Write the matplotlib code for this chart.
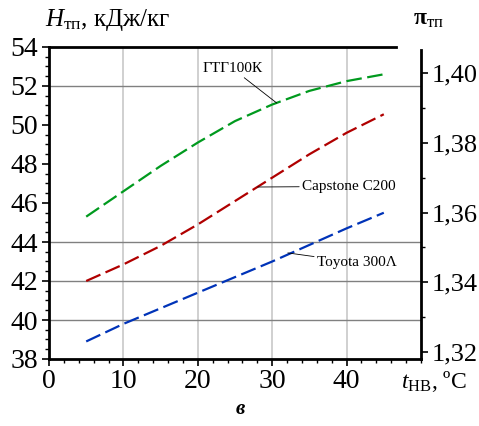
import matplotlib
matplotlib.use("Agg")
import matplotlib.pyplot as plt
from matplotlib.ticker import MultipleLocator, FuncFormatter

plt.rcParams['font.family'] = ['Liberation Serif', 'DejaVu Serif']
plt.rcParams['mathtext.fontset'] = 'custom'
plt.rcParams['mathtext.rm'] = 'Liberation Serif'
plt.rcParams['mathtext.it'] = 'Liberation Serif:italic'
plt.rcParams['mathtext.bf'] = 'Liberation Serif:bold'

# Data
t_nv = [5, 10, 15, 20, 25, 30, 35, 40, 45]
gtg100k = [45.3, 46.6, 47.9, 49.1, 50.2, 51.05, 51.75, 52.25, 52.6]
capstone = [42.0, 42.85, 43.8, 44.9, 46.1, 47.3, 48.5, 49.6, 50.55]
toyota = [38.9, 39.8, 40.6, 41.4, 42.2, 43.0, 43.85, 44.7, 45.5]
series_names = ["ГТГ100К", "Capstone C200", "Toyota 300Λ"]
left_ticks = [38, 40, 42, 44, 46, 48, 50, 52, 54]
right_ticks = [1.32, 1.34, 1.36, 1.38, 1.40]
x_ticks = [0, 10, 20, 30, 40]
hgrid = [52, 44, 42, 40]

colors = ["#009a1e", "#b00000", "#0033b8"]

fig = plt.figure(figsize=(4.79, 4.26), dpi=100)
W, H = 479, 426
x0, x1, y0, y1 = 49, 421, 47, 359
ax = fig.add_axes([x0 / W, 1 - y1 / H, (x1 - x0) / W, (y1 - y0) / H])
ax.set_xlim(0, 50)
ax.set_ylim(38, 54)

# grid
for xv in x_ticks[1:]:
    ax.axvline(xv, color="#c8c8c8", lw=1.2, zorder=0)
for yv in hgrid:
    ax.axhline(yv, color="#808080", lw=1.0, zorder=0)

dash = (7, 2.5)
for ys, c in zip([gtg100k, capstone, toyota], colors):
    ax.plot(t_nv, ys, color=c, lw=1.6, linestyle=(0, dash), zorder=3)

# spines
for s in ["left", "bottom", "top"]:
    ax.spines[s].set_linewidth(2.0)
ax.spines["right"].set_visible(False)
ax.spines["top"].set_bounds(0, 46.6)

ax.set_xticks(x_ticks)
ax.xaxis.set_minor_locator(MultipleLocator(2))
ax.set_yticks(left_ticks)
ax.yaxis.set_minor_locator(MultipleLocator(0.5))
ax.tick_params(axis="both", which="major", direction="out", length=5, width=1.2, labelsize=20)
ax.tick_params(axis="both", which="minor", direction="out", length=3, width=1.0)
ax.tick_params(axis="x", pad=2)
ax.tick_params(axis="y", pad=3)

# right axis
ax2 = ax.twinx()
a = 1.3180
b = 1.4075
ax2.set_ylim(a, b)
ax2.set_yticks(right_ticks)
ax2.yaxis.set_minor_locator(MultipleLocator(0.01))
ax2.yaxis.set_major_formatter(FuncFormatter(lambda v, p: f"{v:.2f}".replace(".", ",")))
for s in ["left", "bottom", "top"]:
    ax2.spines[s].set_visible(False)
ax2.spines["right"].set_linewidth(2.0)
ax2.spines["right"].set_bounds(a, a + (359 - 50) / 312 * (b - a))
ax2.tick_params(axis="y", which="major", direction="out", length=5, width=1.2, labelsize=19, pad=3)
ax2.tick_params(axis="y", which="minor", direction="out", length=3, width=1.0)

# annotations
akw = dict(fontsize=11, ha="left", va="center",
           arrowprops=dict(arrowstyle="-", color="black", lw=0.6, shrinkA=0, shrinkB=0))
ax.annotate(series_names[0], xy=(30.6, 51.13), xytext=(20.6, 52.9), **akw)
ax.annotate(series_names[1], xy=(28.05, 46.82), xytext=(34.0, 46.85), **akw)
ax.annotate(series_names[2], xy=(32.1, 43.44), xytext=(36.0, 42.95), **akw)

# axis titles
fig.text(45 / W, 1 - 20 / H, r"$\mathit{H}_{\mathrm{тп}}$, кДж/кг", fontsize=18, ha="left", va="center")
fig.text(413 / W, 1 - 20 / H, r"$\mathbf{π}_{\mathrm{тп}}$", fontsize=17, ha="left", va="center")
fig.text(401 / W, 1 - 382 / H, r"$\mathit{t}_{\mathrm{НВ}}$, ºC", fontsize=17, ha="left", va="center")
fig.text(240 / W, 1 - 409 / H, "в", fontsize=15, ha="center", va="center",
         fontweight="bold", fontstyle="italic")

fig.savefig("out.png", dpi=100)
